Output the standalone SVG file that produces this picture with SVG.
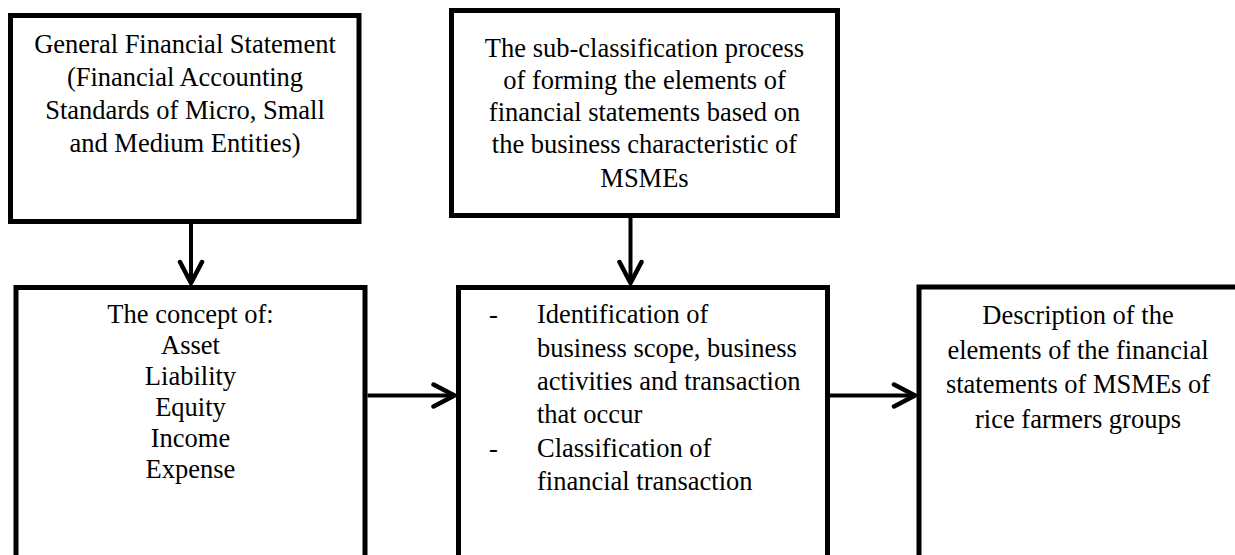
<svg xmlns="http://www.w3.org/2000/svg" width="1235" height="555" viewBox="0 0 1235 555">
<style>
.box{fill:#fff;stroke:#000;stroke-width:5}
.t{font-family:"Liberation Serif","Times New Roman",serif;font-size:26.5px;fill:#000}
.c{text-anchor:middle}
.conn{fill:none;stroke:#000;stroke-width:4}
</style>
<defs>
<marker id="chev" markerUnits="userSpaceOnUse" markerWidth="30" markerHeight="30" viewBox="0 0 30 30" refX="24" refY="15" orient="auto">
<path d="M3,4 L24,15 L3,26" fill="none" stroke="#000" stroke-width="4.5" stroke-linecap="round" stroke-linejoin="round"/>
</marker>
</defs>
<rect width="1235" height="555" fill="#fff"/>
<g id="node-general">
<rect class="box" x="10.5" y="15.5" width="348.5" height="206"/>
<text class="t c" x="185" y="53">General Financial Statement</text>
<text class="t c" x="185" y="86">(Financial Accounting</text>
<text class="t c" x="185" y="119">Standards of Micro, Small</text>
<text class="t c" x="185" y="152">and Medium Entities)</text>
</g>
<g id="node-subclass">
<rect class="box" x="451.5" y="10.5" width="386" height="205"/>
<text class="t c" x="644.5" y="57">The sub-classification process</text>
<text class="t c" x="644.5" y="89">of forming the elements of</text>
<text class="t c" x="644.5" y="121">financial statements based on</text>
<text class="t c" x="644.5" y="153">the business characteristic of</text>
<text class="t c" x="644.5" y="187">MSMEs</text>
</g>
<g id="node-concept">
<rect class="box" x="16" y="287.5" width="349" height="320"/>
<text class="t c" x="190.5" y="323">The concept of:</text>
<text class="t c" x="190.5" y="354">Asset</text>
<text class="t c" x="190.5" y="385">Liability</text>
<text class="t c" x="190.5" y="416">Equity</text>
<text class="t c" x="190.5" y="447">Income</text>
<text class="t c" x="190.5" y="478">Expense</text>
</g>
<g id="node-identification">
<rect class="box" x="458.5" y="287.5" width="369" height="320"/>
<text class="t" x="489" y="323">-</text>
<text class="t" x="537" y="323">Identification of</text>
<text class="t" x="537" y="356.5">business scope, business</text>
<text class="t" x="537" y="390">activities and transaction</text>
<text class="t" x="537" y="423">that occur</text>
<text class="t" x="489" y="456.5">-</text>
<text class="t" x="537" y="456.5">Classification of</text>
<text class="t" x="537" y="490">financial transaction</text>
</g>
<g id="node-description">
<rect class="box" x="919" y="287" width="340" height="320"/>
<text class="t c" x="1078" y="324">Description of the</text>
<text class="t c" x="1078" y="358.5">elements of the financial</text>
<text class="t c" x="1078" y="393">statements of MSMEs of</text>
<text class="t c" x="1078" y="427.5">rice farmers groups</text>
</g>
<g id="connectors">
<line class="conn" x1="191" y1="224" x2="191" y2="283" marker-end="url(#chev)"/>
<line class="conn" x1="630.5" y1="218" x2="630.5" y2="283" marker-end="url(#chev)"/>
<line class="conn" x1="367.5" y1="395.5" x2="454.5" y2="395.5" marker-end="url(#chev)"/>
<line class="conn" x1="830" y1="395.5" x2="915" y2="395.5" marker-end="url(#chev)"/>
</g>
</svg>
